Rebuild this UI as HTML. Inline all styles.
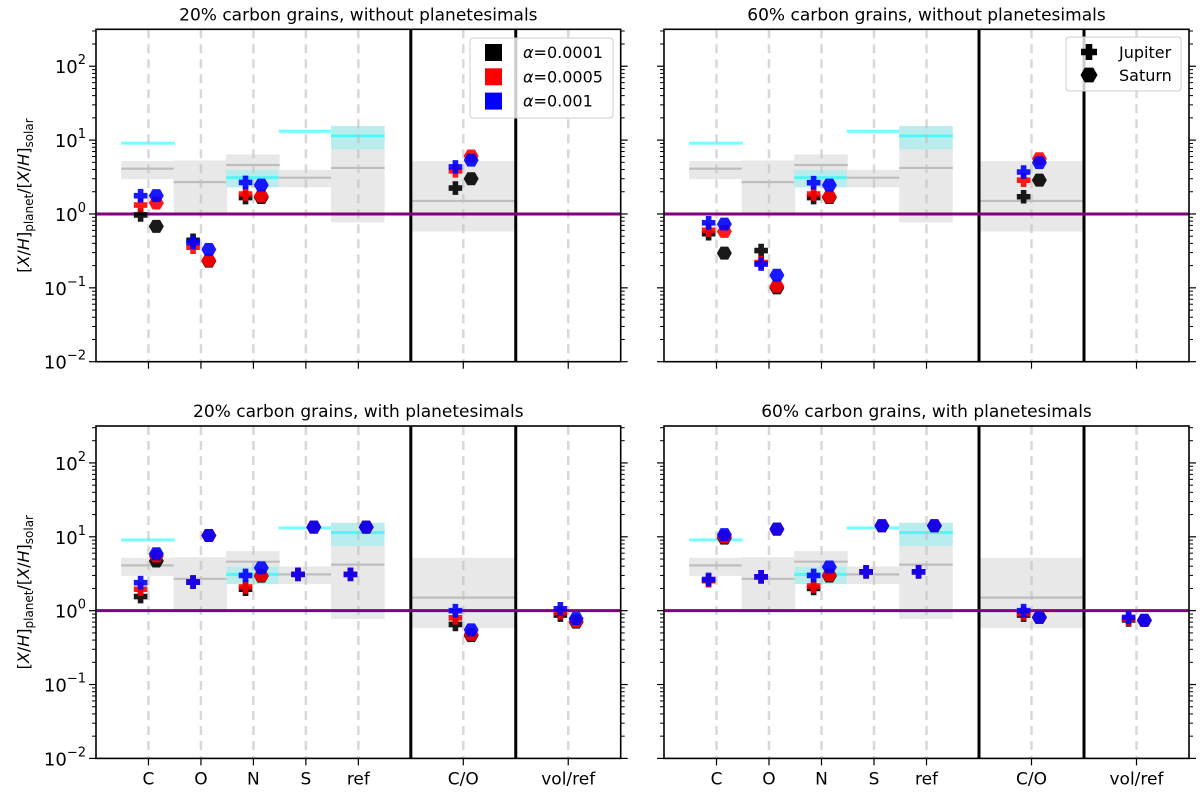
<!DOCTYPE html>
<html><head><meta charset="utf-8"><style>
body{margin:0;background:#fff;}
svg{display:block;font-family:"DejaVu Sans","Liberation Sans",sans-serif;}
</style></head><body>
<svg id="fig" width="1200" height="794" viewBox="0 0 1200 794" xmlns="http://www.w3.org/2000/svg"></svg>
<script>
const categories = ['C','O','N','S','ref','C/O','vol/ref'];
const catX = [1,2,3,4,5,7,9];
const yTickExp = [-2,-1,0,1,2];
// observation boxes (C,O,N,S,ref,C/O)
const greyLo = [2.96,1.03,2.3,2.3,0.77,0.58];
const greyHi = [5.2,5.3,6.4,3.96,15.5,5.2];
const greyMed = [4.1,2.7,4.6,3.1,4.2,1.5];
const cyanLine = [9.1,null,3.1,13.2,11.4,null];
const cyanLo = [null,null,2.28,null,7.5,null];
const cyanHi = [null,null,3.96,null,15.5,null];
const seriesColors = ['#000000','#ff0000','#0000ff'];
const seriesLabels = ['0.0001','0.0005','0.001'];

// top-left: 20% without planetesimals
const tlJupBlack=[0.97,0.44,1.67,null,null,2.24,null];
const tlJupRed=[1.32,0.355,1.86,null,null,3.84,null];
const tlJupBlue=[1.77,0.41,2.67,null,null,4.34,null];
const tlSatBlack=[0.68,0.23,1.67,null,null,3.0,null];
const tlSatRed=[1.41,0.235,1.75,null,null,6.1,null];
const tlSatBlue=[1.77,0.33,2.46,null,null,5.35,null];
// top-right: 60% without
const trJupBlack=[0.54,0.32,1.67,null,null,1.71,null];
const trJupRed=[0.6,0.22,1.86,null,null,2.87,null];
const trJupBlue=[0.76,0.21,2.65,null,null,3.7,null];
const trSatBlack=[0.295,0.10,1.67,null,null,2.87,null];
const trSatRed=[0.58,0.105,1.72,null,null,5.6,null];
const trSatBlue=[0.73,0.148,2.46,null,null,4.95,null];
// bottom-left: 20% with
const blJupBlack=[1.55,2.44,1.95,3.1,3.1,0.65,0.87];
const blJupRed=[1.95,2.44,2.1,3.1,3.1,0.8,0.94];
const blJupBlue=[2.39,2.44,3.0,3.1,3.1,1.0,1.06];
const blSatBlack=[4.7,10.4,2.94,13.5,13.5,0.46,0.70];
const blSatRed=[5.5,10.4,3.0,13.5,13.5,0.48,0.72];
const blSatBlue=[5.9,10.4,3.8,13.5,13.5,0.55,0.78];
// bottom-right: 60% with
const brJupBlack=[2.55,2.87,2.0,3.36,3.36,0.87,0.75];
const brJupRed=[2.55,2.87,2.15,3.36,3.36,0.91,0.77];
const brJupBlue=[2.65,2.87,3.0,3.36,3.36,1.0,0.81];
const brSatBlack=[9.6,12.7,2.95,14.1,14.1,0.81,0.74];
const brSatRed=[10.0,12.7,3.05,14.1,14.1,0.81,0.74];
const brSatBlue=[10.7,12.7,3.9,14.1,14.1,0.81,0.74];

const svg=document.getElementById('fig');
const NS='http://www.w3.org/2000/svg';
function mk(tag,attrs,parent){const e=document.createElementNS(NS,tag);for(const k in attrs)e.setAttribute(k,attrs[k]);(parent||svg).appendChild(e);return e;}
function plusPts(cx,cy,a,w){return [[-w,-a],[w,-a],[w,-w],[a,-w],[a,w],[w,w],[w,a],[-w,a],[-w,w],[-a,w],[-a,-w],[-w,-w]].map(p=>(cx+p[0])+','+(cy+p[1])).join(' ');}
function hexPts(cx,cy,r){let s=[];for(let i=0;i<6;i++){const t=i*Math.PI/3;s.push((cx+r*Math.cos(t))+','+(cy+r*Math.sin(t)*1.0));}return s.join(' ');}

function panel(cfg){
  const {x0,x1,y0,y1}=cfg;
  const g=mk('g',{});
  
  
  const X=v=>x0+(v/10)*(x1-x0);
  const Y=v=>y1-(Math.log10(v)+2)/4.5*(y1-y0);
  for(let i=0;i<6;i++){
    const xl=i<5?X(catX[i]-0.52):X(6), xr=i<5?X(catX[i]+0.5):X(8);
    const r=mk('rect',{x:xl,y:Y(greyHi[i]),width:xr-xl,height:Y(greyLo[i])-Y(greyHi[i]),fill:'#e8e8e8'},g);
    
    
    mk('line',{x1:xl,x2:xr,y1:Y(greyMed[i]),y2:Y(greyMed[i]),stroke:'#bdbdbd','stroke-width':2.2},g);
    if(cyanLo[i]!==null){
      const c=mk('rect',{x:xl,y:Y(cyanHi[i]),width:xr-xl,height:Y(cyanLo[i])-Y(cyanHi[i]),fill:'rgba(0,255,255,0.2)'},g);
      
      
    }
    if(cyanLine[i]!==null){
      mk('line',{x1:xl,x2:xr,y1:Y(cyanLine[i]),y2:Y(cyanLine[i]),stroke:'rgba(0,255,255,0.55)','stroke-width':3},g);
    }
  }
  catX.forEach(c=>mk('line',{x1:X(c),x2:X(c),y1:y0,y2:y1,stroke:'rgba(190,190,190,0.6)','stroke-width':2.5,'stroke-dasharray':'9,6'},g));
  [6,8].forEach(c=>{const l=mk('line',{x1:X(c),x2:X(c),y1:y0,y2:y1,stroke:'#000','stroke-width':3},g);
    
    });
  const sl=mk('line',{x1:x0,x2:x1,y1:Y(1),y2:Y(1),stroke:'#800080','stroke-width':3},g);
  
  
  for(let s=0;s<3;s++){
    for(let i=0;i<7;i++){
      const vj=cfg.jup[s][i], vs=cfg.sat[s][i];
      if(vj!==null&&vj!==undefined){
        const p=mk('polygon',{points:plusPts(X(catX[i]-0.15),Y(vj),6.8,2.8),fill:seriesColors[s],opacity:0.9},g);
        
        
      }
      if(vs!==null&&vs!==undefined){
        const p=mk('polygon',{points:hexPts(X(catX[i]+0.15),Y(vs),7.5),fill:seriesColors[s],opacity:0.9},g);
        
        
      }
    }
  }
  mk('rect',{x:x0,y:y0,width:x1-x0,height:y1-y0,fill:'none',stroke:'#000','stroke-width':1.6},g);
  for(let e=-2;e<=2;e++){
    [x0,x1].forEach((xx,si)=>{const d=si?1:-1;
      mk('line',{x1:xx,x2:xx+d*7,y1:Y(Math.pow(10,e)),y2:Y(Math.pow(10,e)),stroke:'#000','stroke-width':1.2},g);
      if(e<2)for(let m=2;m<=9;m++){const yy=Y(m*Math.pow(10,e));mk('line',{x1:xx,x2:xx+d*4,y1:yy,y2:yy,stroke:'#000','stroke-width':1},g);}
    });
  }
  for(let m=2;m<=3;m++){const yy=Y(m*100);[x0,x1].forEach((xx,si)=>mk('line',{x1:xx,x2:xx+(si?4:-4),y1:yy,y2:yy,stroke:'#000','stroke-width':1},g));}
  if(cfg.yLabels){
    yTickExp.forEach(e=>{const t=mk('text',{x:x0-10,y:Y(Math.pow(10,e))+7,'text-anchor':'end','font-size':18},g);
      
      
      t.appendChild(document.createTextNode('10'));
      const sp=mk('tspan',{dy:-9,'font-size':13},t);sp.textContent=String(e).replace('-','\u2212');});
    const yl=mk('text',{transform:`translate(${x0-67},${(y0+y1)/2}) rotate(-90)`,'text-anchor':'middle','font-size':16},g);
    
    
    yl.innerHTML='[<tspan font-style="italic">X</tspan>/<tspan font-style="italic">H</tspan>]<tspan font-size="12" dy="4">planet</tspan><tspan dy="-4">/[</tspan><tspan font-style="italic">X</tspan>/<tspan font-style="italic">H</tspan>]<tspan font-size="12" dy="4">solar</tspan>';
  }
  catX.forEach((c,i)=>{
    mk('line',{x1:X(c),x2:X(c),y1:y1,y2:y1+7,stroke:'#000','stroke-width':1.2},g);
    if(cfg.xLabels){const t=mk('text',{x:X(c),y:y1+26,'text-anchor':'middle','font-size':17},g);t.textContent=categories[i];
      
      }
  });
  const tt=mk('text',{x:(x0+x1)/2,y:y0-9,'text-anchor':'middle','font-size':17},g);
  tt.textContent=cfg.title;
  
  
  return {g,X,Y};
}

const TL=[96,620.7,29.3,361.7], TR=[664,1189,29.3,361.7], BL=[96,620.7,426,758.4], BR=[664,1189,426,758.4];
panel({name:'panel-20pct-without',x0:TL[0],x1:TL[1],y0:TL[2],y1:TL[3],title:'20% carbon grains, without planetesimals',yLabels:true,xLabels:false,jup:[tlJupBlack,tlJupRed,tlJupBlue],sat:[tlSatBlack,tlSatRed,tlSatBlue]});
panel({name:'panel-60pct-without',x0:TR[0],x1:TR[1],y0:TR[2],y1:TR[3],title:'60% carbon grains, without planetesimals',yLabels:false,xLabels:false,jup:[trJupBlack,trJupRed,trJupBlue],sat:[trSatBlack,trSatRed,trSatBlue]});
panel({name:'panel-20pct-with',x0:BL[0],x1:BL[1],y0:BL[2],y1:BL[3],title:'20% carbon grains, with planetesimals',yLabels:true,xLabels:true,jup:[blJupBlack,blJupRed,blJupBlue],sat:[blSatBlack,blSatRed,blSatBlue]});
panel({name:'panel-60pct-with',x0:BR[0],x1:BR[1],y0:BR[2],y1:BR[3],title:'60% carbon grains, with planetesimals',yLabels:false,xLabels:true,jup:[brJupBlack,brJupRed,brJupBlue],sat:[brSatBlack,brSatRed,brSatBlue]});

const lg=mk('g',{});


mk('rect',{x:470,y:38,width:143,height:80,rx:3,fill:'rgba(255,255,255,0.8)',stroke:'#ccc','stroke-width':1},lg);
seriesLabels.forEach((l,i)=>{const yy=52+i*24.3;
  mk('rect',{x:485,y:yy-8,width:17,height:17,fill:seriesColors[i]},lg);
  const t=mk('text',{x:523,y:yy+6,'font-size':16},lg);
  
  
  t.innerHTML='<tspan font-style="italic">α</tspan>='+l;});
const lp=mk('g',{});


mk('rect',{x:1066,y:37,width:115,height:54,rx:3,fill:'rgba(255,255,255,0.8)',stroke:'#ccc','stroke-width':1},lp);
mk('polygon',{points:plusPts(1089,52,8,3.3),fill:'#000'},lp);
mk('polygon',{points:hexPts(1089,75,8.5),fill:'#000'},lp);
const j=mk('text',{x:1119,y:58,'font-size':16},lp);j.textContent='Jupiter';


const s=mk('text',{x:1119,y:81,'font-size':16},lp);s.textContent='Saturn';


</script>
</body></html>
